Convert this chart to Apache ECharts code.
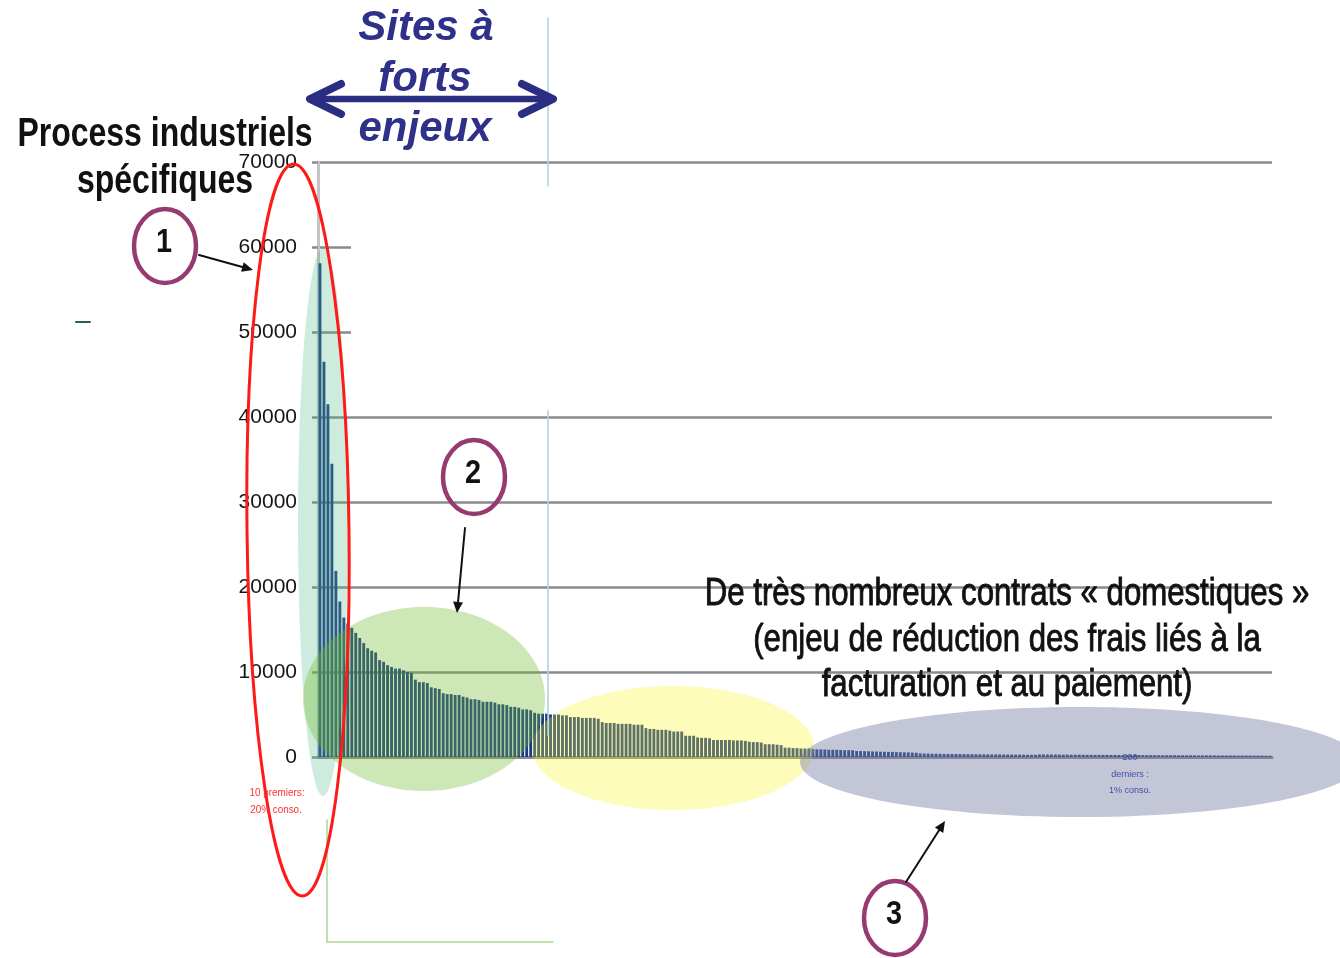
<!DOCTYPE html>
<html>
<head>
<meta charset="utf-8">
<script src="https://cdn.jsdelivr.net/npm/echarts@6/dist/echarts.min.js"></script>
<style>
  html, body { margin: 0; padding: 0; background: #ffffff; }
  #chart { width: 1340px; height: 958px; }
</style>
</head>
<body>
<div id="chart"></div>
<script>
// Annual consumption per site, sorted from largest to smallest.
// Largest industrial sites (specific processes)
const consumptionTop = [
  58100, 46500, 41500, 34500, 21900, 18300, 16400, 15700, 15200, 14600,
  14000, 13400, 12800, 12500, 12300, 11400, 11200, 10800, 10600, 10400,
  10400, 10200, 10000, 9900, 9100, 8800, 8800, 8700, 8200, 8100
];
// Sites with strong stakes
const consumptionHigh = [
  8000, 7500, 7400, 7400, 7300, 7300, 7100, 7000, 6800, 6800,
  6700, 6500, 6500, 6500, 6400, 6200, 6200, 6100, 5900, 5900,
  5800, 5600, 5600, 5500, 5200, 5100, 5100, 5100, 5000, 5000,
  5000, 4900, 4900, 4700, 4700, 4700, 4600, 4600, 4600, 4600
];
// Medium sites
const consumptionMid = [
  4500, 4100, 4000, 4000, 4000, 3900, 3900, 3900, 3900, 3800,
  3800, 3800, 3400, 3300, 3300, 3200, 3200, 3200, 3100, 3000,
  3000, 3000, 2500, 2500, 2500, 2300, 2250, 2250, 2200, 2000,
  2000, 2000, 2000, 2000, 1950, 1950, 1950, 1900, 1800, 1750,
  1750, 1700, 1500, 1500, 1500, 1450, 1400, 1100, 1100, 1050,
  1050, 1000, 1000, 1000, 950
];
// Small sites
const consumptionLow = [
  900, 900, 880, 850, 850, 850, 820, 800, 800, 800,
  700, 700, 680, 680, 650, 650, 620, 620, 600, 600,
  580, 560, 550, 540, 520, 500, 420, 400, 400, 380,
  380, 370, 360, 360, 350, 350, 340, 340, 330, 330,
  320, 320, 310, 310, 300, 300, 300, 290, 290, 280,
  280, 280, 270, 270, 260, 260
];
// Domestic contracts (long tail)
const consumptionTail = [
  300, 300, 290, 290, 290, 280, 280, 280, 270, 270,
  270, 260, 260, 260, 250, 250, 250, 250, 240, 240,
  240, 240, 230, 230, 230, 230, 220, 220, 220, 220,
  210, 210, 210, 210, 210, 200, 200, 200, 200, 200,
  190, 190, 190, 190, 190, 180, 180, 180, 180, 180,
  170, 170, 170, 170, 160, 160, 160, 150, 150
];
const yTicks = [0, 10000, 20000, 30000, 40000, 50000, 60000, 70000];

const consumption = [].concat(consumptionTop, consumptionHigh, consumptionMid, consumptionLow, consumptionTail);
const siteRanks = consumption.map((_, i) => String(i + 1));

// ---- drawing helpers for the annotations ----
function ellipse(cx, cy, rx, ry, style, z, rotation) {
  return {
    type: 'ellipse', x: cx, y: cy, rotation: rotation || 0,
    shape: { cx: 0, cy: 0, rx: rx, ry: ry }, style: style, z: z, silent: true
  };
}
function text(str, x, y, font, fill, z, scaleX, strokeWidth) {
  const style = { text: str, x: 0, y: 0, font: font, fill: fill, textAlign: 'center', textVerticalAlign: 'middle' };
  if (strokeWidth) { style.stroke = fill; style.lineWidth = strokeWidth; }
  return { type: 'text', x: x, y: y, scaleX: scaleX || 1, z: z, silent: true, style: style };
}
function line(x1, y1, x2, y2, stroke, width, z) {
  return {
    type: 'line', z: z, silent: true,
    shape: { x1: x1, y1: y1, x2: x2, y2: y2 },
    style: { stroke: stroke, lineWidth: width, lineCap: 'round' }
  };
}
function arrow(x1, y1, x2, y2, color, width, head, z) {
  const dx = x2 - x1, dy = y2 - y1, len = Math.sqrt(dx * dx + dy * dy);
  const ux = dx / len, uy = dy / len;
  const bx = x2 - ux * head, by = y2 - uy * head;
  const w = head * 0.45;
  return [
    line(x1, y1, bx, by, color, width, z),
    {
      type: 'polygon', z: z, silent: true,
      shape: { points: [[x2, y2], [bx - uy * w, by + ux * w], [bx + uy * w, by - ux * w]] },
      style: { fill: color }
    }
  ];
}
function numberBadge(num, cx, cy) {
  return [
    ellipse(cx, cy, 31, 37, { fill: 'rgba(255,255,255,0)', stroke: '#963a70', lineWidth: 4.5 }, 12),
    text(num, cx - 1, cy - 3, 'bold 34px "Liberation Sans", Arial, sans-serif', '#111111', 13, 0.85)
  ];
}

const narrowBold = 'bold 40px "Liberation Sans", Arial, sans-serif';
const narrowRegular = '38px "Liberation Sans", Arial, sans-serif';
const navyItalic = 'italic bold 42px "Liberation Sans", Arial, sans-serif';

const graphics = [].concat(
  // panel hiding the upper grid lines behind the "forts enjeux" block
  [{ type: 'rect', z: 3, silent: true, shape: { x: 351, y: 187, width: 960, height: 222 }, style: { fill: '#ffffff' } }],
  // boundary of the "sites à forts enjeux" area
  [line(548, 18, 548, 186, '#a9d6e2', 1.6, 14), line(548, 411, 548, 735, '#a9d6e2', 1.6, 14)],
  // green frame remnants below the axis
  [line(327, 820, 327, 942, '#a9d98f', 1.5, 4), line(327, 942, 553, 942, '#a9d98f', 1.5, 4)],
  [line(76, 322, 90, 322, '#2a6244', 2, 4)],
  // translucent groupings over the bars
  [
    ellipse(323, 522, 25, 274, { fill: 'rgba(76,185,133,0.28)' }, 6),
    ellipse(424, 699, 121, 92, { fill: 'rgba(110,185,40,0.34)' }, 6),
    ellipse(673, 748, 141, 62, { fill: 'rgba(248,244,30,0.30)' }, 6),
    ellipse(1080, 762, 280, 55, { fill: 'rgba(118,126,164,0.44)' }, 6),
    ellipse(298, 530, 51, 366, { fill: 'rgba(255,255,255,0)', stroke: '#ff1a1a', lineWidth: 3 }, 9, 0.012)
  ],
  // numbered callouts and their arrows
  numberBadge('1', 165, 246),
  numberBadge('2', 474, 477),
  numberBadge('3', 895, 918),
  arrow(199, 255, 253, 270, '#111111', 2, 11, 12),
  arrow(465, 528, 457, 613, '#111111', 2, 11, 12),
  arrow(906, 882, 945, 821, '#111111', 2, 11, 12),
  // double arrow above the strong-stake sites
  [
    line(313, 99, 550, 99, '#2b2d82', 6.5, 15),
    { type: 'polyline', z: 15, silent: true, shape: { points: [[341, 84], [310, 99], [341, 114]] },
      style: { stroke: '#2b2d82', lineWidth: 8, lineCap: 'round', lineJoin: 'round', fill: null } },
    { type: 'polyline', z: 15, silent: true, shape: { points: [[522, 84], [553, 99], [522, 114]] },
      style: { stroke: '#2b2d82', lineWidth: 8, lineCap: 'round', lineJoin: 'round', fill: null } }
  ],
  // titles and comments
  [
    text('Sites à', 426, 28, navyItalic, '#2e308a', 16),
    text('forts', 425, 79, navyItalic, '#2e308a', 16),
    text('enjeux', 425, 129, navyItalic, '#2e308a', 16),
    text('Process industriels', 165, 135, narrowBold, '#111111', 16, 0.8),
    text('spécifiques', 165, 182, narrowBold, '#111111', 16, 0.8),
    text('De très nombreux contrats « domestiques »', 1007, 595, narrowRegular, '#111111', 16, 0.82, 0.9),
    text('(enjeu de réduction des frais liés à la', 1007, 641, narrowRegular, '#111111', 16, 0.82, 0.9),
    text('facturation et au paiement)', 1007, 686, narrowRegular, '#111111', 16, 0.82, 0.9),
    text('10 premiers:', 277, 793, '11px "Liberation Sans", Arial, sans-serif', '#ff3030', 16, 0.9),
    text('20% conso.', 276, 810, '11px "Liberation Sans", Arial, sans-serif', '#ff3030', 16, 0.9),
    text('200', 1130, 758, '9px "Liberation Sans", Arial, sans-serif', '#3b4fa6', 16),
    text('derniers :', 1130, 775, '9px "Liberation Sans", Arial, sans-serif', '#3b4fa6', 16),
    text('1% conso.', 1130, 791, '9px "Liberation Sans", Arial, sans-serif', '#3b4fa6', 16)
  ]
);

const chart = echarts.init(document.getElementById('chart'), null, { renderer: 'canvas' });
chart.setOption({
  animation: false,
  backgroundColor: '#ffffff',
  grid: { left: 318, right: 68, top: 162, bottom: 201, containLabel: false },
  xAxis: {
    type: 'category',
    data: siteRanks,
    boundaryGap: true,
    axisLine: { show: true, lineStyle: { color: '#8c8c8c', width: 3 } },
    axisTick: { show: false },
    axisLabel: { show: false },
    splitLine: { show: false }
  },
  yAxis: {
    type: 'value',
    min: yTicks[0],
    max: yTicks[yTicks.length - 1],
    interval: yTicks[1] - yTicks[0],
    axisLine: { show: true, lineStyle: { color: '#c4c4c4', width: 3 } },
    axisTick: { show: true, length: 6, lineStyle: { color: '#8a8a8a', width: 2.5 } },
    axisLabel: {
      margin: 21, color: '#151515', fontSize: 21,
      fontFamily: '"Liberation Sans", Arial, sans-serif',
      formatter: v => String(v)
    },
    splitLine: { show: true, lineStyle: { color: '#8a8a8a', width: 2.5 } }
  },
  series: [{
    type: 'bar',
    data: consumption,
    barWidth: '72%',
    itemStyle: { color: '#1c3a84' },
    z: 2
  }],
  graphic: { elements: graphics }
});
</script>
</body>
</html>
